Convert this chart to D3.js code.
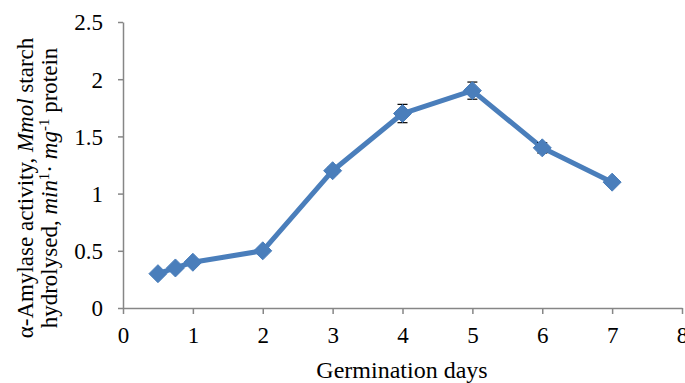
<!DOCTYPE html>
<html>
<head>
<meta charset="utf-8">
<script src="https://cdn.jsdelivr.net/npm/d3@7"></script>
<style>
  body { margin: 0; background: #fff; }
  text { font-family: "Liberation Serif", "Times New Roman", serif; fill: #000; }
</style>
</head>
<body>
<svg id="chart" width="685" height="383"></svg>
<script>
// germination days and alpha-amylase activity
var days = [0.5, 0.75, 1, 2, 3, 4, 5, 6, 7];
var activity = [0.3, 0.35, 0.4, 0.5, 1.2, 1.7, 1.9, 1.4, 1.1];
var errors = [0, 0, 0, 0, 0.03, 0.08, 0.075, 0.045, 0];
var xTicks = [0, 1, 2, 3, 4, 5, 6, 7, 8];
var yTicks = [0, 0.5, 1, 1.5, 2, 2.5];

var svg = d3.select("#chart");
var axisColor = "#868686";
var lineColor = "#4a7ebb";
var serif = "'Liberation Serif', 'Times New Roman', serif";
var fontSize = "23px";

var x = d3.scaleLinear().domain([0, 8]).range([123, 682]);
var y = d3.scaleLinear().domain([0, 2.5]).range([308, 22]);

//y axis, ticks point outward to the left
var yAxis = d3.axisLeft(y).tickValues(yTicks).tickSize(5).tickSizeOuter(0)
  .tickFormat(function(d){ return d; });
var gy = svg.append("g").attr("transform", "translate(123,0)").call(yAxis)
  .attr("font-family", serif).attr("font-size", 23);
gy.select(".domain").attr("stroke", axisColor).attr("stroke-width", 1.5);
gy.selectAll(".tick line").attr("stroke", axisColor).attr("stroke-width", 1.5);
gy.selectAll(".tick text").attr("x", -20).attr("dy", "0.34em")
  .style("font-family", serif).style("font-size", fontSize).attr("fill", "#000");

//x axis
var xAxis = d3.axisBottom(x).tickValues(xTicks).tickSize(6).tickSizeOuter(0);
var gx = svg.append("g").attr("transform", "translate(0,308)").call(xAxis)
  .attr("font-family", serif).attr("font-size", 23);
gx.select(".domain").attr("stroke", axisColor).attr("stroke-width", 1.5);
gx.selectAll(".tick line").attr("stroke", axisColor).attr("stroke-width", 1.5);
gx.selectAll(".tick text").attr("y", 35).attr("dy", 0)
  .style("font-family", serif).style("font-size", fontSize).attr("fill", "#000");

var pts = days.map(function(d, i){ return {x: d, y: activity[i], e: errors[i]}; });

//line
svg.append("path")
  .datum(pts)
  .attr("fill", "none")
  .attr("stroke", lineColor)
  .attr("stroke-width", 5)
  .attr("stroke-linejoin", "round")
  .attr("d", d3.line().x(function(d){ return x(d.x); }).y(function(d){ return y(d.y); }));

//error bars (drawn under markers)
var eb = svg.append("g").selectAll("g").data(pts.filter(function(d){ return d.e > 0; }))
  .enter().append("g").attr("stroke", "#000").attr("stroke-width", 1.2);
eb.append("line")
  .attr("x1", function(d){ return x(d.x); }).attr("x2", function(d){ return x(d.x); })
  .attr("y1", function(d){ return y(d.y + d.e); }).attr("y2", function(d){ return y(d.y - d.e); });
eb.append("line")
  .attr("x1", function(d){ return x(d.x) - 5; }).attr("x2", function(d){ return x(d.x) + 5; })
  .attr("y1", function(d){ return y(d.y + d.e); }).attr("y2", function(d){ return y(d.y + d.e); });
eb.append("line")
  .attr("x1", function(d){ return x(d.x) - 5; }).attr("x2", function(d){ return x(d.x) + 5; })
  .attr("y1", function(d){ return y(d.y - d.e); }).attr("y2", function(d){ return y(d.y - d.e); });

//diamond markers
svg.append("g").selectAll("path").data(pts).enter().append("path")
  .attr("transform", function(d){ return "translate(" + x(d.x) + "," + y(d.y) + ")"; })
  .attr("d", "M0,-9L9,0L0,9L-9,0Z")
  .attr("fill", lineColor)
  .attr("stroke", lineColor)
  .attr("stroke-width", 1);

//x axis title
svg.append("text")
  .attr("x", 402)
  .attr("y", 378)
  .attr("text-anchor", "middle")
  .style("font-family", serif)
  .style("font-size", "24px")
  .text("Germination days");

//y axis title, two lines with italic units and superscripts
var yt = svg.append("text")
  .attr("transform", "translate(0,188) rotate(-90)")
  .attr("text-anchor", "middle")
  .style("font-family", serif)
  .style("font-size", fontSize);

var l1 = yt.append("tspan").attr("x", 0).attr("y", 33);
l1.append("tspan").text("α-Amylase activity, ");
l1.append("tspan").style("font-style", "italic").text("Mmol");
l1.append("tspan").text(" starch");

var l2 = yt.append("tspan").attr("x", 0).attr("y", 57);
l2.append("tspan").text("hydrolysed, ");
l2.append("tspan").style("font-style", "italic").text("min");
l2.append("tspan").attr("dy", -8).style("font-size", "15px").text("1");
l2.append("tspan").attr("dy", 8).text("· ");
l2.append("tspan").style("font-style", "italic").text("mg");
l2.append("tspan").attr("dy", -8).style("font-size", "15px").text("-1");
l2.append("tspan").attr("dy", 8).text(" protein");
</script>
</body>
</html>
